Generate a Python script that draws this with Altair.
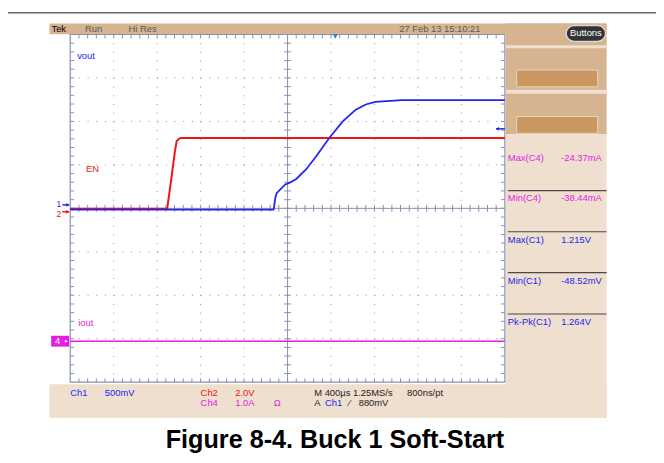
import altair as alt
import pandas as pd
import numpy as np

# ---------------- data (screen divisions: x 0..10, y -4..4) ----------------
en_x = [0.0, 2.23, 2.32, 2.41, 2.45, 2.52, 2.55, 10.0]
en_y = [-0.01, -0.01, 0.64, 1.32, 1.55, 1.61, 1.62, 1.62]

vout_x = [0.0, 4.68, 4.72, 4.75, 4.84, 4.95, 5.05, 5.20, 5.43, 5.66, 5.96,
          6.27, 6.57, 6.80, 7.02, 7.63, 10.0]
vout_y = [-0.03, -0.03, 0.25, 0.35, 0.44, 0.55, 0.59, 0.675, 0.90, 1.20, 1.62,
          2.00, 2.27, 2.39, 2.45, 2.49, 2.49]

iout_x = [0.0, 2.0, 4.0, 6.0, 8.0, 10.0]
iout_y = [-3.06, -3.06, -3.06, -3.06, -3.06, -3.06]

meas_names = ["Max(C4)", "Min(C4)", "Max(C1)", "Min(C1)", "Pk-Pk(C1)"]
meas_values = ["-24.37mA", "-38.44mA", "1.215V", "-48.52mV", "1.264V"]

title = "Figure 8-4. Buck 1 Soft-Start"

# ---------------- layout helpers (page pixels -> divisions) ----------------
X0, Y0, DIV = 71.0, 208.0, 44.0


def dx(px):
    return (px - X0) / DIV


def dy(py):
    return (Y0 - py) / DIV


BLUE = "#2424F0"
RED = "#F01414"
MAG = "#E41EE4"
GRID = "#8791AE"
DOT = "#8E8E8E"
TAN = "#D6B48F"
LIGHT = "#EEDFCF"

XS = alt.Scale(domain=[0, 10], nice=False, zero=False)
YS = alt.Scale(domain=[-4, 4], nice=False, zero=False)


def ex(f):
    return alt.X(f, type="quantitative", scale=XS, axis=None)


def ey(f):
    return alt.Y(f, type="quantitative", scale=YS, axis=None)


# ---------------- background panels ----------------
rects = [
    (50, 614, 21, 31.7, TAN),        # header
    (512, 614, 21, 133, TAN),        # button area
    (512, 614, 43, 46, LIGHT),
    (512, 614, 88, 92, LIGHT),
    (512, 614, 133, 420, LIGHT),     # measurement panel
    (50, 614, 386, 420, LIGHT),      # bottom bar
    (51.7, 70, 337, 348, MAG),       # ch4 marker box
]
rect_df = pd.DataFrame([{"x": dx(a), "x2": dx(b), "y": dy(c), "y2": dy(d), "c": col}
                        for a, b, c, d, col in rects])
bg = alt.Chart(rect_df).mark_rect().encode(
    x=ex("x"), x2="x2", y=ey("y"), y2="y2", color=alt.Color("c:N", scale=None))

btn_df = pd.DataFrame([{"x": dx(523), "x2": dx(605), "y": dy(68), "y2": dy(85)},
                       {"x": dx(523), "x2": dx(605), "y": dy(115), "y2": dy(132)}])
btns = alt.Chart(btn_df).mark_rect(fill="#C9975F", stroke="#EAD6BF", strokeWidth=1).encode(
    x=ex("x"), x2="x2", y=ey("y"), y2="y2")

oval_df = pd.DataFrame([{"x": dx(573), "x2": dx(613), "y": dy(23), "y2": dy(39)}])
oval = alt.Chart(oval_df).mark_rect(fill="#333333", stroke="#D8D8D8", strokeWidth=1.5,
                                    cornerRadius=8).encode(
    x=ex("x"), x2="x2", y=ey("y"), y2="y2")

# ---------------- frame line & separators ----------------
frame = alt.Chart(pd.DataFrame([{"x": dx(8), "x2": dx(664), "y": dy(10)}])).mark_rule(
    strokeWidth=1.5, color="#666666").encode(x=ex("x"), x2="x2", y=ey("y"))

seps = alt.Chart(pd.DataFrame([{"x": dx(514), "x2": dx(614), "y": dy(v)}
                               for v in [190, 231.7, 273, 315]])).mark_rule(
    strokeWidth=1.2, color="#4A4A4A").encode(x=ex("x"), x2="x2", y=ey("y"))

# ---------------- graticule ----------------
vgrid = alt.Chart(pd.DataFrame({"x": [1, 2, 3, 4, 6, 7, 8, 9], "y": 4, "y2": -4})).mark_rule(
    color=DOT, strokeWidth=1, strokeDash=[1, 7.8]).encode(x=ex("x"), y=ey("y"), y2="y2")
hgrid = alt.Chart(pd.DataFrame({"y": [3, 2, 1, -1, -2, -3], "x": 0, "x2": 10})).mark_rule(
    color=DOT, strokeWidth=1, strokeDash=[1, 7.8]).encode(y=ey("y"), x=ex("x"), x2="x2")

border = alt.Chart(pd.DataFrame([{"x": 0, "x2": 10, "y": -4, "y2": 4}])).mark_rect(
    fill=None, stroke=GRID, strokeWidth=1.2).encode(x=ex("x"), x2="x2", y=ey("y"), y2="y2")

cross_v = alt.Chart(pd.DataFrame([{"x": 5, "y": -4, "y2": 4}])).mark_rule(
    color=GRID, strokeWidth=1).encode(x=ex("x"), y=ey("y"), y2="y2")
cross_h = alt.Chart(pd.DataFrame([{"y": 0, "x": 0, "x2": 10}])).mark_rule(
    color=GRID, strokeWidth=1).encode(y=ey("y"), x=ex("x"), x2="x2")

tl = 4.0 / DIV
ct = 3.5 / DIV
vt_rows = []
for k in range(1, 50):
    xv = k / 5.0
    vt_rows.append({"x": xv, "y": 4, "y2": 4 - tl})
    vt_rows.append({"x": xv, "y": -4, "y2": -4 + tl})
    vt_rows.append({"x": xv, "y": -ct, "y2": ct})
ht_rows = []
for k in range(1, 40):
    yv = -4 + k / 5.0
    ht_rows.append({"y": yv, "x": 0, "x2": tl})
    ht_rows.append({"y": yv, "x": 10, "x2": 10 - tl})
    ht_rows.append({"y": yv, "x": 5 - ct, "x2": 5 + ct})
vticks = alt.Chart(pd.DataFrame(vt_rows)).mark_rule(color=GRID, strokeWidth=1).encode(
    x=ex("x"), y=ey("y"), y2="y2")
hticks = alt.Chart(pd.DataFrame(ht_rows)).mark_rule(color=GRID, strokeWidth=1).encode(
    y=ey("y"), x=ex("x"), x2="x2")

# ---------------- traces ----------------
def trace(xs, ys, col, w):
    df = pd.DataFrame({"x": xs, "y": ys, "i": range(len(xs))})
    return alt.Chart(df).mark_line(color=col, strokeWidth=w).encode(
        x=ex("x"), y=ey("y"), order="i:Q")


red = trace(en_x, en_y, RED, 2.0)
mag = trace(iout_x, iout_y, MAG, 1.6)
blue = trace(vout_x, vout_y, BLUE, 1.8)

# ---------------- markers ----------------
arrow_rows = [
    (63, 70, 204.5, BLUE), (63, 70, 211.5, RED), (502, 511, 127.5, BLUE),
]
arrows = alt.Chart(pd.DataFrame([{"x": dx(a), "x2": dx(b), "y": dy(c), "c": col}
                                 for a, b, c, col in arrow_rows])).mark_rule(
    strokeWidth=1.5).encode(x=ex("x"), x2="x2", y=ey("y"), color=alt.Color("c:N", scale=None))

pt_rows = [
    (68.5, 204.5, "triangle-right", BLUE, 14),
    (68.5, 211.5, "triangle-right", RED, 14),
    (503.5, 127.5, "triangle-left", BLUE, 14),
    (339.3, 34, "triangle-down", "#1E8ED8", 30),
    (67, 342.5, "triangle-right", "#FFFFFF", 10),
]
pts = alt.Chart(pd.DataFrame([{"x": dx(a), "y": dy(b), "s": s, "c": c, "z": z}
                              for a, b, s, c, z in pt_rows])).mark_point(
    filled=True, opacity=1).encode(
    x=ex("x"), y=ey("y"), shape=alt.Shape("s:N", scale=None),
    color=alt.Color("c:N", scale=None), size=alt.Size("z:Q", scale=None))

# ---------------- texts ----------------
txt = [
    ("Tek", 52, 26, "#000000"),
    ("Run", 86, 26, "#5A5A5A"),
    ("Hi Res", 130, 26, "#5A5A5A"),
    ("27 Feb 13 15:10:21", 404, 26, "#5A5A5A"),
    ("vout", 78, 54, BLUE),
    ("EN", 87, 168, RED),
    ("iout", 79, 324, MAG),
    ("4", 55.5, 342.5, "#FFFFFF"),
    ("Ch1", 71, 395, BLUE),
    ("500mV", 106, 395, BLUE),
    ("Ch2", 203, 395, RED),
    ("2.0V", 238, 395, RED),
    ("Ch4", 203, 405.5, MAG),
    ("1.0A", 238, 405.5, MAG),
    ("Ω", 277, 405.5, MAG),
    ("M 400µs 1.25MS/s", 318, 395, "#222222"),
    ("800ns/pt", 412, 395, "#222222"),
    ("A", 318, 405.5, "#222222"),
    ("Ch1", 329, 405.5, BLUE),
    ("⁄", 353, 405.5, "#222222"),
    ("880mV", 363, 405.5, "#222222"),
]
meas_y = [157, 198, 240, 282, 323]
for i, (nm, val) in enumerate(zip(meas_names, meas_values)):
    col = MAG if "C4" in nm else BLUE
    txt.append((nm, 514, meas_y[i], col))
    txt.append((val, 568, meas_y[i], col))

txt_df = pd.DataFrame([{"t": t, "x": dx(a), "y": dy(b), "c": c} for t, a, b, c in txt])
texts = alt.Chart(txt_df).mark_text(
    align="left", baseline="middle", font="Liberation Sans", fontSize=9.5).encode(
    x=ex("x"), y=ey("y"), text="t:N", color=alt.Color("c:N", scale=None))

# channel ground markers "1" / "2", stacked tightly like the scope display
mk1 = alt.Chart(pd.DataFrame([{"t": "1", "x": dx(57), "y": dy(207)}])).mark_text(
    align="left", baseline="alphabetic", font="Liberation Sans", fontSize=8.5,
    color=BLUE).encode(x=ex("x"), y=ey("y"), text="t:N")
mk2 = alt.Chart(pd.DataFrame([{"t": "2", "x": dx(57), "y": dy(209.5)}])).mark_text(
    align="left", baseline="top", font="Liberation Sans", fontSize=8.5,
    color=RED).encode(x=ex("x"), y=ey("y"), text="t:N")

btn_txt = alt.Chart(pd.DataFrame([{"t": "Buttons", "x": dx(593), "y": dy(31)}])).mark_text(
    align="center", baseline="middle", font="Liberation Sans", fontSize=9.5,
    color="#FFFFFF").encode(x=ex("x"), y=ey("y"), text="t:N")

ttl = alt.Chart(pd.DataFrame([{"t": title, "x": dx(339), "y": dy(451)}])).mark_text(
    align="center", baseline="alphabetic", font="Liberation Sans", fontSize=25.5,
    fontWeight="bold", color="#000000").encode(x=ex("x"), y=ey("y"), text="t:N")

chart = alt.layer(
    bg, btns, oval, frame, seps,
    vgrid, hgrid, cross_v, cross_h, vticks, hticks, border,
    red, mag, blue,
    arrows, pts, texts, mk1, mk2, btn_txt, ttl,
).properties(
    width=440, height=352,
    padding={"left": 63, "top": 24, "right": 153, "bottom": 79},
    autosize=alt.AutoSizeParams(type="none"),
    background="#FFFFFF",
).configure_view(stroke=None)

chart.save("out.html", embed_options={"renderer": "svg", "actions": False})
